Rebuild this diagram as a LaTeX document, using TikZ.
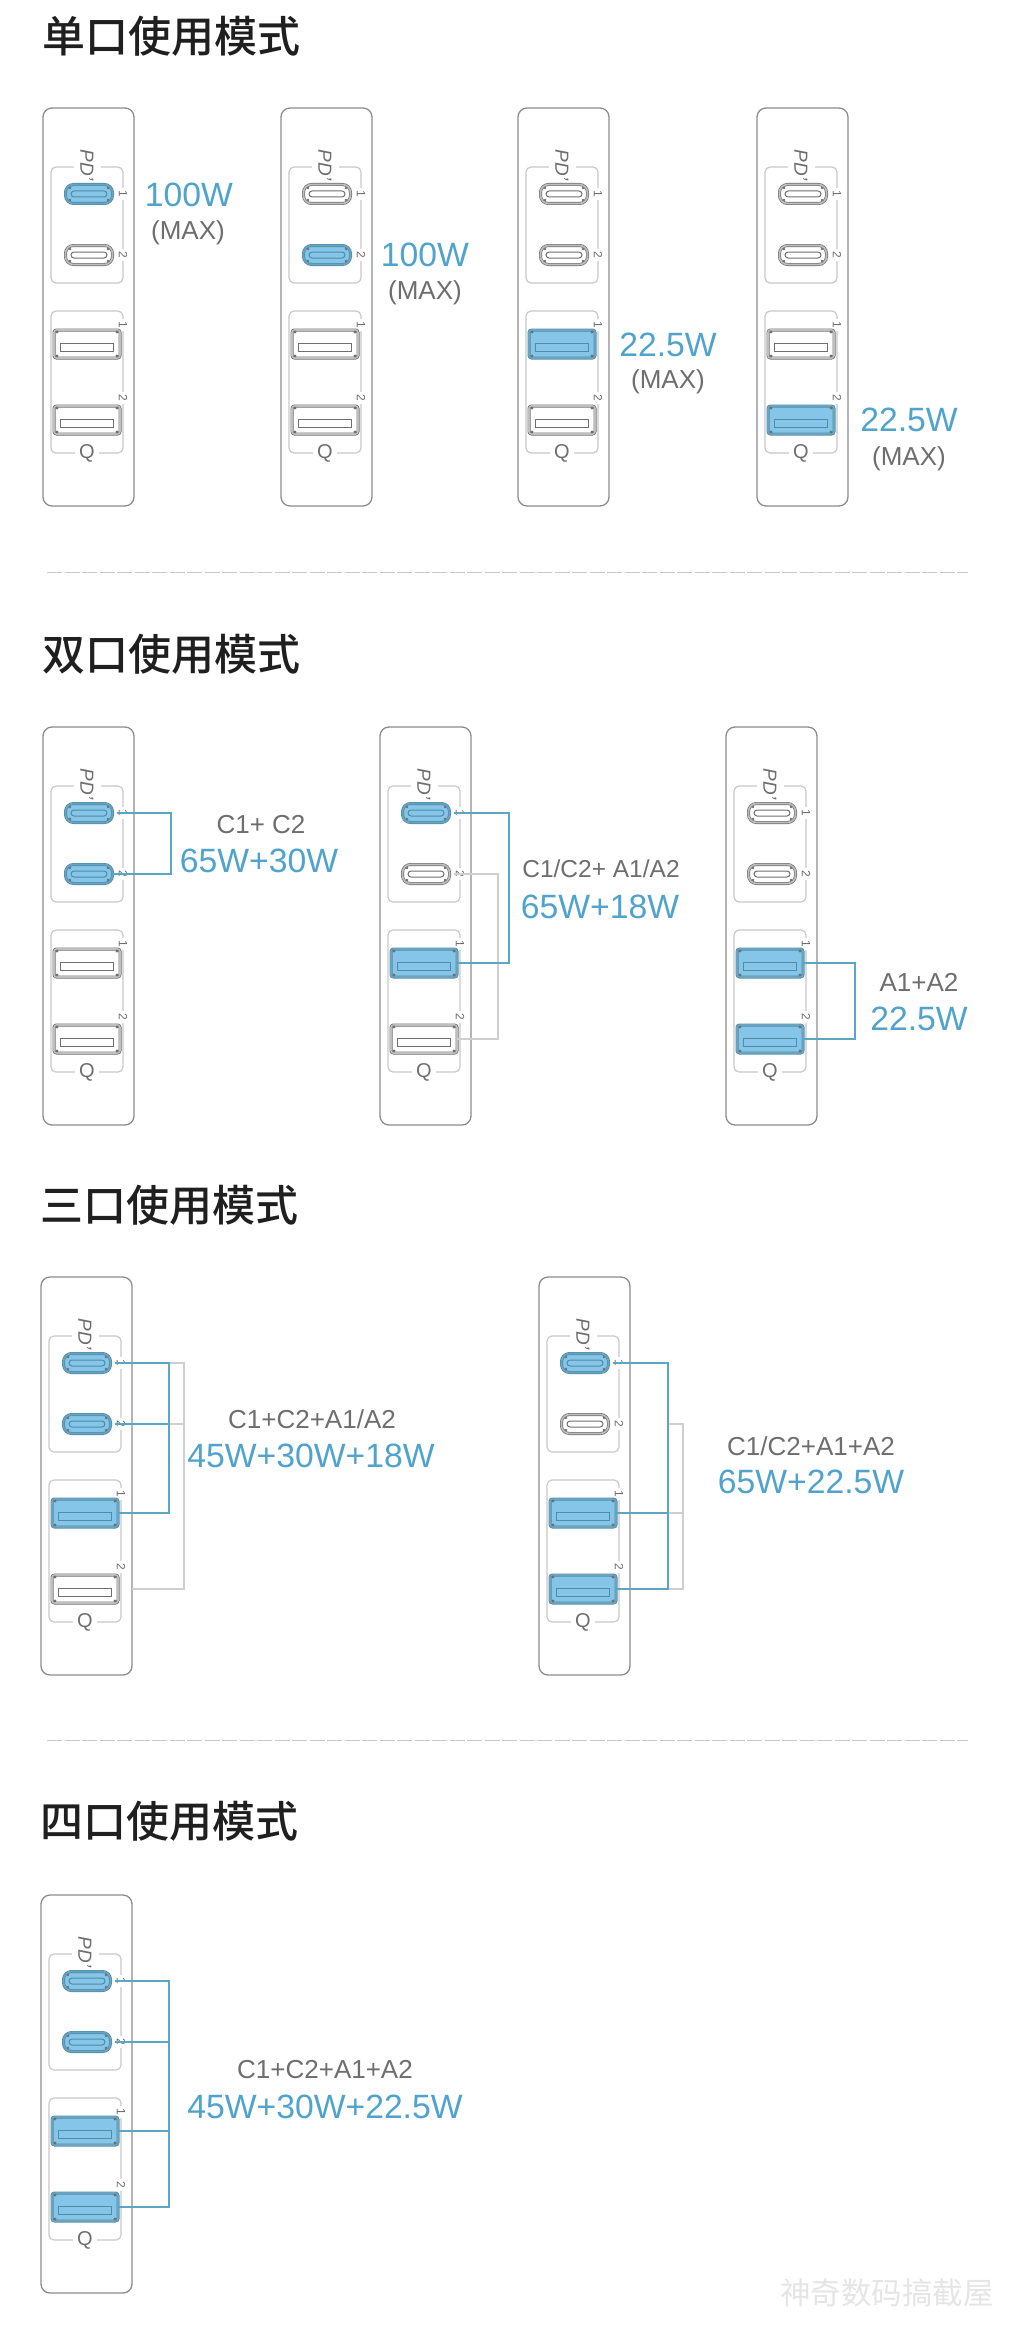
\documentclass[tikz,border=0pt]{standalone}
\usepackage{fontspec}
\setmainfont{Liberation Sans}
\newfontfamily\cjk{Noto Sans CJK SC Medium}
\newfontfamily\cjkplain{Noto Sans CJK SC}
\definecolor{wattblue}{HTML}{4FA3CC}
\definecolor{wordgray}{HTML}{6E6E6E}
\definecolor{panelgray}{HTML}{8C8C8C}
\definecolor{boxgray}{HTML}{C9C9C9}
\definecolor{portgray}{HTML}{707070}
\definecolor{rimgray}{HTML}{BEBEBE}
\definecolor{portblue}{HTML}{84C5E8}
\definecolor{rimblue}{HTML}{6AA3C0}
\definecolor{portedge}{HTML}{4E8CA8}
\definecolor{linkblue}{HTML}{5BA6C4}
\definecolor{linkgray}{HTML}{CFCFCF}
\tikzset{
	title/.style={anchor=west, inner sep=0pt, text=black!88, font=\cjk\fontsize{43}{43}\selectfont},
	panel/.style={draw=panelgray, line width=1.3pt, rounded corners=9pt},
	portbox/.style={draw=boxgray, line width=1.2pt, rounded corners=5pt},
	live/.style={fill=portblue, draw=portedge},
	idle/.style={fill=white, draw=portgray},
	liverim/.style={double=rimblue, double distance=1.6pt},
	idlerim/.style={double=rimgray, double distance=1.6pt},
	portc/.style={shape=rectangle, rounded corners=8pt, line width=.7pt, minimum width=47pt, minimum height=19pt, inner sep=0pt},
	slotc/.style={shape=rectangle, rounded corners=3pt, line width=1pt, minimum width=36pt, minimum height=6pt, inner sep=0pt},
	porta/.style={shape=rectangle, rounded corners=2.5pt, line width=.7pt, minimum width=66pt, minimum height=28pt, inner sep=0pt},
	slota/.style={shape=rectangle, line width=1pt, minimum width=53pt, minimum height=8pt, inner sep=0pt},
	portnum/.style={rotate=-90, fill=white, text=wordgray, inner sep=3pt, font=\fontsize{12}{12}\selectfont},
	pdmark/.style={rotate=-90, fill=white, text=wordgray, inner sep=0pt, minimum height=27pt, font=\itshape\fontsize{19}{19}\selectfont},
	qmark/.style={fill=white, text=wordgray, inner sep=0pt, minimum width=24pt, font=\fontsize{20}{20}\selectfont},
	modeword/.style={text=wordgray, inner sep=0pt, font=\fontsize{26}{26}\selectfont},
	wattword/.style={text=wattblue, inner sep=0pt, font=\fontsize{33.7}{33.7}\selectfont},
	liveline/.style={draw=linkblue, line width=1.3pt},
	idleline/.style={draw=linkgray, line width=1.1pt},
	rule/.style={draw=boxgray, line width=1pt, dash pattern=on 15pt off 2.5pt}
}
% name, x, y, then live or idle for C1, C2, A1, A2
\newcommand{\usbpanel}[7]{
	\begin{scope}[shift={(#2,#3)}]
		\draw[panel] (0,0) rectangle (91,398);
		\draw[portbox] (8,59) rectangle (80,175);
		\draw[portbox] (8,203) rectangle (80,345);
		\node[pdmark] (#1pd) at (44,57) {PD'};
		\node[qmark] (#1q) at (44,345) {Q};
		\node[portnum] (#1m) at (80,86) {1};
		\node[portnum] (#1n) at (80,147) {2};
		\node[portnum] (#1o) at (80,217) {1};
		\node[portnum] (#1p) at (80,290) {2};
		\node[portc,#4,#4rim] (#1c1) at (46,86) {};
		\node[slotc,#4] (#1s1) at (46,86) {};
		\node[portc,#5,#5rim] (#1c2) at (46,147) {};
		\node[slotc,#5] (#1s2) at (46,147) {};
		\node[porta,#6,#6rim] (#1a1) at (44,236) {};
		\node[slota,#6] (#1t1) at (44,239) {};
		\node[porta,#7,#7rim] (#1a2) at (44,312) {};
		\node[slota,#7] (#1t2) at (44,315) {};
		\foreach \sx/\sy in {-30/-12,30/-12,-30/12,30/12} {
			\fill[portgray] ([shift={(\sx,\sy)}]#1a1.center) circle (1.6pt);
			\fill[portgray] ([shift={(\sx,\sy)}]#1a2.center) circle (1.6pt);
		}
		\foreach \sx/\sy in {-19/-6,19/-6,-19/6,19/6} {
			\fill[portgray] ([shift={(\sx,\sy)}]#1c1.center) circle (1.3pt);
			\fill[portgray] ([shift={(\sx,\sy)}]#1c2.center) circle (1.3pt);
		}
	\end{scope}
}
\begin{document}
\begin{tikzpicture}[x=1pt,y=-1pt]
	\useasboundingbox[fill=white] (0,0) rectangle (1010,2328);

	% one port
	\node[title] (TA) at (42,36) {单口使用模式};
	\usbpanel{AA}{43}{108}{live}{idle}{idle}{idle}
	\usbpanel{AB}{281}{108}{idle}{live}{idle}{idle}
	\usbpanel{AC}{518}{108}{idle}{idle}{live}{idle}
	\usbpanel{AD}{757}{108}{idle}{idle}{idle}{live}
	\node[wattword] (AAw) at (189,195) {100W};
	\node[modeword] (AAx) at (188,233) {(MAX)};
	\node[wattword] (ABw) at (425,255) {100W};
	\node[modeword] (ABx) at (425,293) {(MAX)};
	\node[wattword] (ACw) at (668,345) {22.5W};
	\node[modeword] (ACx) at (668,382) {(MAX)};
	\node[wattword] (ADw) at (909,420) {22.5W};
	\node[modeword] (ADx) at (909,459) {(MAX)};

	\coordinate (RAa) at (47,572);
	\coordinate (RAb) at (968,572);
	\draw[rule] (RAa)--(RAb);

	% two ports
	\node[title] (TB) at (42,654) {双口使用模式};
	\usbpanel{BA}{43}{727}{live}{live}{idle}{idle}
	\usbpanel{BB}{380}{727}{live}{idle}{live}{idle}
	\usbpanel{BC}{726}{727}{idle}{idle}{live}{live}
	\coordinate (BAb) at (171,813);
	\coordinate (BBb) at (509,813);
	\coordinate (BBg) at (498,873);
	\coordinate (BCb) at (855,963);
	\draw[liveline, shorten <=4pt] (BAc1.east) -| (BAb) |- (BAc2.east);
	\draw[idleline, shorten <=4pt] (BBc2.east) -| (BBg) |- (BBa2.east);
	\draw[liveline] ([xshift=4pt]BBc1.east) -| (BBb) |- (BBa1.east);
	\draw[liveline] (BCa1.east) -| (BCb) |- (BCa2.east);
	\node[modeword] (BAm) at (261,825) {C1+ C2};
	\node[wattword] (BAw) at (259,861) {65W+30W};
	\node[modeword, font=\fontsize{24.5}{24.5}\selectfont] (BBm) at (601,869) {C1/C2+ A1/A2};
	\node[wattword] (BBw) at (600,907) {65W+18W};
	\node[modeword] (BCm) at (919,982) {A1+A2};
	\node[wattword] (BCw) at (919,1019) {22.5W};

	% three ports
	\node[title] (TC) at (40,1205) {三口使用模式};
	\usbpanel{CA}{41}{1277}{live}{live}{live}{idle}
	\usbpanel{CB}{539}{1277}{live}{idle}{live}{live}
	\coordinate (CAb) at (169,1363);
	\coordinate (CAg) at (184,1363);
	\coordinate (CBb) at (668,1363);
	\coordinate (CBg) at (683,1424);
	\draw[idleline, shorten >=14pt] (CAb) -- (CAg) |- (CAa2.east);
	\draw[idleline] (CAb |- CAc2) -- (CAg |- CAc2);
	\draw[liveline, shorten <=4pt] (CAc1.east) -| (CAb) |- (CAa1.east);
	\draw[liveline, shorten <=4pt] (CAc2.east) -- (CAb |- CAc2);
	\draw[idleline] (CBb |- CBc2) -| (CBg) |- (CBb |- CBa2);
	\draw[idleline] (CBb |- CBa1) -- (CBg |- CBa1);
	\draw[liveline, shorten <=4pt] (CBc1.east) -| (CBb) |- (CBa2.east);
	\draw[liveline] (CBa1.east) -- (CBb |- CBa1);
	\node[modeword] (CAm) at (312,1419) {C1+C2+A1/A2};
	\node[wattword] (CAw) at (311,1456) {45W+30W+18W};
	\node[modeword] (CBm) at (811,1446) {C1/C2+A1+A2};
	\node[wattword] (CBw) at (811,1482) {65W+22.5W};

	\coordinate (RBa) at (47,1740);
	\coordinate (RBb) at (968,1740);
	\draw[rule] (RBa)--(RBb);

	% four ports
	\node[title] (TD) at (40,1821) {四口使用模式};
	\usbpanel{DA}{41}{1895}{live}{live}{live}{live}
	\coordinate (DAb) at (169,1981);
	\draw[liveline, shorten <=4pt] (DAc1.east) -| (DAb) |- (DAa2.east);
	\draw[liveline, shorten <=4pt] (DAc2.east) -- (DAb |- DAc2);
	\draw[liveline] (DAa1.east) -- (DAb |- DAa1);
	\node[modeword] (DAm) at (325,2070) {C1+C2+A1+A2};
	\node[wattword] (DAw) at (325,2107) {45W+30W+22.5W};

	\node[text=black!10, inner sep=0pt, font=\cjkplain\fontsize{30.5}{30.5}\selectfont] (WM) at (887,2293) {神奇数码搞截屋};
\end{tikzpicture}
\end{document}
